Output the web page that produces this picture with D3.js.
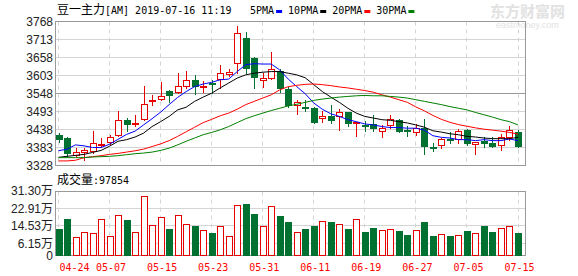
<!DOCTYPE html>
<html>
<head>
<meta charset="utf-8">
<script src="https://cdn.jsdelivr.net/npm/d3@7/dist/d3.min.js"></script>
<style>
body { margin: 0; background: #fff; }
svg { display: block; }
</style>
</head>
<body>
<div id="chart"></div>
<script>
// trading days shown on the chart
var dates = ['04-24','04-25','04-26','04-29','04-30','05-06','05-07','05-08','05-09','05-10',
  '05-13','05-14','05-15','05-16','05-17','05-20','05-21','05-22','05-23','05-24',
  '05-27','05-28','05-29','05-30','05-31','06-03','06-04','06-05','06-06','06-10',
  '06-11','06-12','06-13','06-14','06-17','06-18','06-19','06-20','06-21','06-24',
  '06-25','06-26','06-27','06-28','07-01','07-02','07-03','07-04','07-05','07-08',
  '07-09','07-10','07-11','07-12','07-15'];

var opens  = [3420,3412,3361,3368,3372,3392,3399,3420,3468,3454,3470,3524,3531,3556,3552,3572,3590,3567,3581,3592,
  3608,3641,3717,3658,3588,3594,3617,3562,3512,3508,3505,3472,3480,3478,3492,3457,3453,3455,3434,3452,
  3467,3436,3429,3444,3385,3391,3409,3409,3437,3394,3403,3398,3391,3415,3429];
var highs  = [3426,3414,3382,3381,3434,3413,3420,3495,3473,3483,3572,3544,3582,3559,3610,3618,3605,3585,3590,3636,
  3623,3755,3737,3661,3610,3674,3623,3569,3529,3529,3508,3496,3513,3500,3493,3462,3465,3483,3452,3483,
  3471,3449,3455,3471,3396,3412,3429,3439,3440,3401,3415,3415,3425,3449,3437];
var lows   = [3401,3358,3355,3345,3367,3385,3394,3417,3434,3449,3468,3512,3529,3522,3549,3566,3546,3554,3549,3564,
  3602,3610,3610,3564,3569,3592,3554,3508,3485,3496,3457,3461,3457,3437,3450,3417,3432,3433,3415,3442,
  3429,3417,3422,3364,3371,3381,3396,3396,3391,3364,3384,3386,3374,3407,3384];
var closes = [3410,3366,3369,3375,3396,3395,3414,3467,3456,3457,3516,3529,3540,3543,3572,3590,3571,3572,3579,3610,
  3615,3733,3627,3598,3595,3623,3566,3513,3522,3503,3461,3480,3468,3492,3457,3460,3451,3442,3443,3470,
  3434,3432,3444,3389,3383,3409,3406,3434,3398,3400,3398,3389,3415,3435,3389];

// volume, unit 万
var volumes = [13.0,17.8,9.1,11.4,10.9,17.8,9.6,19.6,17.3,11.4,28.9,14.9,18.8,13.0,19.6,15.3,14.4,12.4,11.1,14.3,
  9.6,24.4,25.0,20.2,14.3,23.9,19.3,16.4,11.4,13.0,14.4,16.7,16.4,15.3,13.0,17.8,11.6,13.5,12.4,13.0,
  12.0,10.1,12.4,16.4,9.6,10.4,9.6,10.0,12.0,10.9,14.4,11.6,13.5,14.3,11.1];

// moving averages
var ma5  = [3373,3378,3391,3388,3383,3383,3393,3408,3423,3433,3452,3471,3491,3514,3536,3554,3569,3577,3582,3590,
  3592,3615,3636,3639,3638,3638,3620,3592,3569,3547,3519,3500,3486,3478,3468,3462,3455,3452,3447,3444,
  3444,3442,3442,3436,3419,3414,3412,3407,3407,3404,3407,3404,3404,3409,3404];
var ma10 = [3353,3356,3359,3362,3368,3374,3387,3402,3407,3415,3427,3447,3462,3478,3498,3506,3524,3537,3549,3565,
  3580,3595,3605,3610,3613,3615,3615,3610,3605,3596,3575,3554,3537,3521,3503,3488,3478,3473,3468,3466,
  3462,3458,3452,3445,3434,3430,3425,3422,3417,3415,3412,3410,3410,3410,3414];
var ma20 = [3342,3342,3344,3352,3355,3358,3362,3365,3369,3373,3378,3386,3394,3404,3417,3431,3445,3459,3469,3480,
  3488,3500,3514,3524,3534,3544,3559,3569,3573,3576,3577,3575,3572,3568,3565,3561,3557,3552,3544,3537,
  3529,3521,3507,3495,3481,3469,3460,3453,3448,3443,3439,3436,3433,3429,3424];
var ma30 = [3352,3352,3352,3352,3354,3355,3356,3358,3361,3364,3366,3369,3374,3381,3391,3402,3412,3422,3429,3437,
  3447,3459,3471,3480,3488,3496,3503,3510,3515,3521,3527,3531,3534,3537,3539,3541,3542,3541,3541,3539,
  3537,3534,3529,3524,3519,3514,3508,3503,3498,3490,3483,3476,3468,3462,3452];

var priceTicks = [3768,3713,3658,3603,3548,3493,3438,3383,3328];
var volTicks = [31.30,22.91,14.53,6.15,0];
var volTickLabels = ['31.30万','22.91万','14.53万','6.15万','0'];
var dateTicks = ['04-24','05-07','05-15','05-23','05-31','06-11','06-19','06-27','07-05','07-15'];

var maNames = ['5PMA','10PMA','20PMA','30PMA'];
var maColors = ['#0000ff','#000000','#ff0000','#008000'];

var upColor = '#e60000', downColor = '#007130';
var gridColor = '#d4d4d4', frameColor = '#999';
var monoFont = '"DejaVu Sans Mono", monospace';
var cjkFont = '"Noto Sans CJK SC", sans-serif';
var axisFont = '"Liberation Sans", Arial, sans-serif';

var W = 578, H = 276;
var left = 55.5, right = 525.5;

var svg = d3.select('#chart').append('svg')
  .attr('width', W).attr('height', H);

var x = d3.scalePoint().domain(dates).range([58.5, 518]);
var y = d3.scaleLinear().domain([3328, 3768]).range([165.5, 21.5]);
var vy = d3.scaleLinear().domain([0, 31.30]).range([256, 191]);

function px(v) { return Math.round(v - 0.5) + 0.5; }

// watermark
var wm = svg.append('g').attr('fill', '#e2e2e2');
wm.append('text').attr('x', 490).attr('y', 17).style('font-family', cjkFont)
  .style('font-size', '15px').style('font-weight', 'bold').text('东方财富网');
wm.append('text').attr('x', 496).attr('y', 28).style('font-family', axisFont)
  .style('font-size', '9px').text('eastmoney.com');

// ---------- grid ----------
var grid = svg.append('g');
priceTicks.forEach(function(t, i) {
  if (i == 0 || i == priceTicks.length - 1) return;
  grid.append('line')
    .attr('x1', left).attr('x2', right)
    .attr('y1', px(y(t))).attr('y2', px(y(t)))
    .attr('stroke', t == 3548 ? frameColor : gridColor);
});
volTicks.forEach(function(t, i) {
  if (i == 0 || i == volTicks.length - 1) return;
  grid.append('line')
    .attr('x1', left).attr('x2', right)
    .attr('y1', px(vy(t))).attr('y2', px(vy(t)))
    .attr('stroke', gridColor);
});
dateTicks.forEach(function(d) {
  var xx = px(x(d));
  [[21.5, 165.5], [191.5, 256]].forEach(function(r) {
    grid.append('line')
      .attr('x1', xx).attr('x2', xx).attr('y1', r[0]).attr('y2', r[1])
      .attr('stroke', gridColor).attr('stroke-dasharray', '4,4');
  });
});

// frames
svg.append('rect').attr('x', left).attr('y', 21.5).attr('width', right - left).attr('height', 144)
  .attr('fill', 'none').attr('stroke', frameColor);
svg.append('rect').attr('x', left).attr('y', 191.5).attr('width', right - left).attr('height', 64)
  .attr('fill', 'none').attr('stroke', frameColor);

// ---------- axes ----------
svg.append('g')
  .attr('transform', 'translate(53,0)')
  .call(d3.axisLeft(y).tickValues(priceTicks).tickSize(0).tickPadding(0).tickFormat(d3.format('d')))
  .call(function(g) { g.select('.domain').remove(); })
  .selectAll('text')
  .style('font-family', axisFont).style('font-size', '12px').attr('fill', '#222');

svg.append('g')
  .attr('transform', 'translate(53,0)')
  .call(d3.axisLeft(vy).tickValues(volTicks).tickSize(0).tickPadding(0)
    .tickFormat(function(d, i) { return volTickLabels[i]; }))
  .call(function(g) { g.select('.domain').remove(); })
  .selectAll('text')
  .style('font-family', axisFont + ',' + cjkFont).style('font-size', '12px').attr('fill', '#222');

svg.append('g').selectAll('text')
  .data(dateTicks).enter().append('text')
  .attr('x', function(d, i) { return i == 0 ? x(d) + 1 : x(d) + 1.5; })
  .attr('y', 271)
  .attr('text-anchor', function(d, i) { return i == 0 ? 'start' : 'middle'; })
  .style('font-family', monoFont).style('font-size', '10px')
  .attr('fill', '#ff0000')
  .text(function(d) { return d; });

// ---------- candles ----------
var candles = svg.append('g');
dates.forEach(function(d, i) {
  var cx = Math.round(x(d));
  var o = opens[i], c = closes[i];
  var up = c >= o;
  var col = up ? upColor : downColor;
  var top = Math.round(y(Math.max(o, c)));
  var bot = Math.round(y(Math.min(o, c)));
  candles.append('line')
    .attr('x1', cx + 0.5).attr('x2', cx + 0.5)
    .attr('y1', Math.round(y(highs[i]))).attr('y2', Math.round(y(lows[i])) + 1)
    .attr('stroke', col);
  if (up) {
    candles.append('rect')
      .attr('x', cx - 2.5).attr('y', top + 0.5)
      .attr('width', 6).attr('height', Math.max(bot - top, 0))
      .attr('fill', '#fff').attr('stroke', col);
  } else {
    candles.append('rect')
      .attr('x', cx - 3).attr('y', top)
      .attr('width', 7).attr('height', Math.max(bot - top, 1) + 1)
      .attr('fill', col);
  }
});

// ---------- moving averages ----------
var maData = [ma5, ma10, ma20, ma30];
maData.forEach(function(series, k) {
  var line = d3.line()
    .x(function(v, i) { return x(dates[i]); })
    .y(function(v) { return y(v); });
  svg.append('path')
    .datum(series)
    .attr('d', line)
    .attr('fill', 'none')
    .attr('stroke', maColors[k])
    .attr('stroke-width', 1);
});

// ---------- volume ----------
var vol = svg.append('g');
dates.forEach(function(d, i) {
  var cx = Math.round(x(d));
  var up = closes[i] >= opens[i];
  var top = Math.round(vy(volumes[i]));
  if (up) {
    vol.append('rect')
      .attr('x', cx - 2.5).attr('y', top + 0.5)
      .attr('width', 6).attr('height', 255 - top)
      .attr('fill', '#fff').attr('stroke', upColor);
  } else {
    vol.append('rect')
      .attr('x', cx - 3).attr('y', top)
      .attr('width', 7).attr('height', 256 - top)
      .attr('fill', downColor);
  }
});

// ---------- titles and legend ----------
var title = svg.append('text').attr('x', 57).attr('y', 13.5).attr('fill', '#000');
title.append('tspan').style('font-family', cjkFont).style('font-size', '12px').text('豆一主力');
title.append('tspan').style('font-family', monoFont).style('font-size', '10px').text('[AM] 2019-07-16 11:19');

var lx = 250;
maNames.forEach(function(name, k) {
  var t = svg.append('text').attr('x', lx).attr('y', 13.5)
    .style('font-family', monoFont).style('font-size', '10px').attr('fill', '#000')
    .text(name);
  var w = t.node().getComputedTextLength();
  svg.append('rect').attr('x', lx + w + 2).attr('y', 10).attr('width', 6).attr('height', 3)
    .attr('fill', maColors[k]);
  lx += w + 2 + 6 + 6;
});

var vt = svg.append('text').attr('x', 57).attr('y', 184).attr('fill', '#000');
vt.append('tspan').style('font-family', cjkFont).style('font-size', '12px').text('成交量');
vt.append('tspan').style('font-family', monoFont).style('font-size', '10px').text(':97854');
</script>
</body>
</html>
